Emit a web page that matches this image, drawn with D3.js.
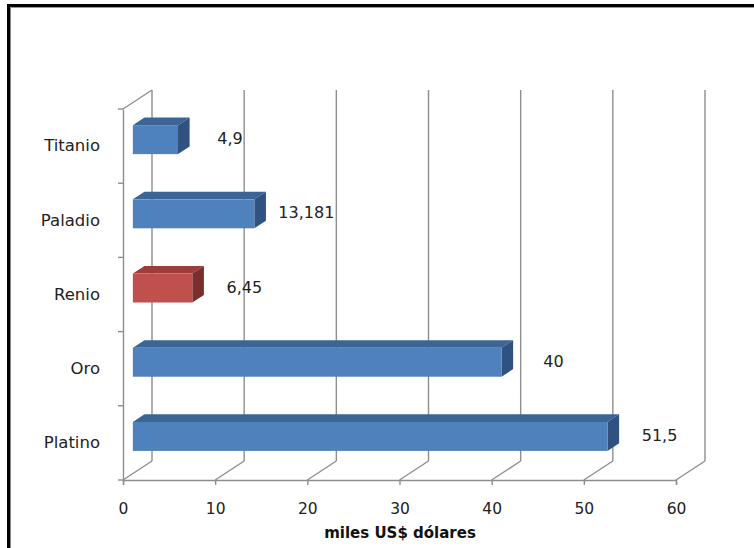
<!DOCTYPE html>
<html>
<head>
<meta charset="utf-8">
<script src="https://cdn.jsdelivr.net/npm/d3@7"></script>
<style>
  html, body { margin: 0; padding: 0; background: #fff; }
  svg { display: block; }
</style>
</head>
<body>
<svg id="chart" width="754" height="548"></svg>
<script>
// Metals and their price (thousand US$)
const categories = ["Titanio", "Paladio", "Renio", "Oro", "Platino"];
const values = [4.9, 13.181, 6.45, 40, 51.5];
const valueLabels = ["4,9", "13,181", "6,45", "40", "51,5"];
const highlighted = ["Renio"];
const tickValues = [0, 10, 20, 30, 40, 50, 60];
const axisTitle = "miles US$ dólares";

const svg = d3.select("#chart");
const W = 754, H = 548;

// frame
svg.append("rect").attr("x", 0).attr("y", 0).attr("width", W).attr("height", H).attr("fill", "#fff");
svg.append("line").attr("x1", 8).attr("x2", W).attr("y1", 5.5).attr("y2", 5.5)
  .attr("stroke", "#000").attr("stroke-width", 3);
svg.append("line").attr("x1", 8.5).attr("x2", 8.5).attr("y1", 4).attr("y2", H)
  .attr("stroke", "#000").attr("stroke-width", 3);
svg.append("line").attr("x1", 10.5).attr("x2", 10.5).attr("y1", 7).attr("y2", H)
  .attr("stroke", "#888").attr("stroke-width", 1);
svg.append("line").attr("x1", 10).attr("x2", W).attr("y1", 7.5).attr("y2", 7.5)
  .attr("stroke", "#999").attr("stroke-width", 1);

// 3D frame geometry
const plotLeft = 123, plotRight = 676, plotTop = 109, plotBottom = 480;
const depth = { x: 29, y: -19 };        // wall depth vector
const barT0 = 0.34, barT1 = 0.74;       // bar front/back positions inside the depth
const gridColor = "#8e8e8e";

const x = d3.scaleLinear().domain([0, 60]).range([plotLeft, plotRight]);
const y = d3.scaleBand().domain(categories).range([plotTop, plotBottom]).paddingInner(0).paddingOuter(0);
const barFrac = 0.39;

const font = "'DejaVu Sans', Verdana, sans-serif";

// back wall gridlines
const g = svg.append("g");
g.selectAll("line.grid").data(tickValues).join("line")
  .attr("class", "grid")
  .attr("x1", d => x(d) + depth.x).attr("x2", d => x(d) + depth.x)
  .attr("y1", plotTop + depth.y).attr("y2", plotBottom + depth.y)
  .attr("stroke", gridColor).attr("stroke-width", 1.4);

// floor diagonals
g.selectAll("line.floor").data(tickValues).join("line")
  .attr("class", "floor")
  .attr("x1", d => x(d)).attr("x2", d => x(d) + depth.x)
  .attr("y1", plotBottom).attr("y2", plotBottom + depth.y)
  .attr("stroke", gridColor).attr("stroke-width", 1.4);

// left wall top edge
g.append("line")
  .attr("x1", plotLeft).attr("y1", plotTop)
  .attr("x2", plotLeft + depth.x).attr("y2", plotTop + depth.y)
  .attr("stroke", gridColor).attr("stroke-width", 1.4);

// bottom axis (value axis)
const xAxis = d3.axisBottom(x).tickValues(tickValues).tickSize(5).tickPadding(18).tickFormat(d3.format("d"));
const xg = svg.append("g").attr("transform", `translate(0,${plotBottom})`).call(xAxis);
xg.select(".domain").attr("stroke", gridColor).attr("stroke-width", 1.4);
xg.selectAll(".tick line").attr("stroke", gridColor).attr("stroke-width", 1.4);
xg.selectAll(".tick text").attr("fill", "#222").style("font-family", font).style("font-size", "15.5px");

// left axis (categories)
const yAxis = d3.axisLeft(y).tickSize(0).tickPadding(23);
const yg = svg.append("g").attr("transform", `translate(${plotLeft},0)`).call(yAxis);
yg.select(".domain").attr("stroke", gridColor).attr("stroke-width", 1.4);
yg.selectAll(".tick text").attr("fill", "#222").style("font-family", font).style("font-size", "16.5px");
// category boundary ticks
const bounds = categories.map(c => y(c)).concat([plotBottom]);
yg.selectAll("line.bound").data(bounds).join("line")
  .attr("class", "bound")
  .attr("x1", -5).attr("x2", 0).attr("y1", d => d).attr("y2", d => d)
  .attr("stroke", gridColor).attr("stroke-width", 1.4);

// 3D bars
const palette = {
  normal: { front: "#4f81bd", top: "#3c6595", side: "#2f5283" },
  hi:     { front: "#c0504d", top: "#9a3d3b", side: "#7b2f2d" }
};
const data = categories.map((c, i) => ({ cat: c, value: values[i], label: valueLabels[i] }));

const bars = svg.append("g").selectAll("g.bar").data(data).join("g").attr("class", "bar");
bars.each(function(d) {
  const sel = d3.select(this);
  const col = highlighted.includes(d.cat) ? palette.hi : palette.normal;
  const h = y.bandwidth() * barFrac;
  const ox = depth.x * barT0, oy = depth.y * barT0;
  const ddx = depth.x * (barT1 - barT0), ddy = depth.y * (barT1 - barT0);
  const x0 = x(0) + ox, x1 = x(d.value) + ox;
  const yc = y(d.cat) + y.bandwidth() / 2 + oy;
  const yt = yc - h / 2, yb = yc + h / 2;
  // top face
  sel.append("path")
    .attr("d", `M${x0},${yt}L${x0 + ddx},${yt + ddy}L${x1 + ddx},${yt + ddy}L${x1},${yt}Z`)
    .attr("fill", col.top);
  // right face
  sel.append("path")
    .attr("d", `M${x1},${yt}L${x1 + ddx},${yt + ddy}L${x1 + ddx},${yb + ddy}L${x1},${yb}Z`)
    .attr("fill", col.side);
  // front face
  sel.append("rect")
    .attr("x", x0).attr("y", yt).attr("width", x1 - x0).attr("height", h)
    .attr("fill", col.front);
  // value label
  sel.append("text")
    .attr("x", x1 + 52).attr("y", yc - 1)
    .attr("text-anchor", "middle").attr("dominant-baseline", "central")
    .attr("fill", "#222").style("font-family", font).style("font-size", "16px")
    .text(d.label);
});

// axis title
svg.append("text")
  .attr("x", 400).attr("y", 533)
  .attr("text-anchor", "middle").attr("dominant-baseline", "central")
  .attr("fill", "#111").style("font-family", font).style("font-size", "15px").style("font-weight", "bold")
  .text(axisTitle);
</script>
</body>
</html>
